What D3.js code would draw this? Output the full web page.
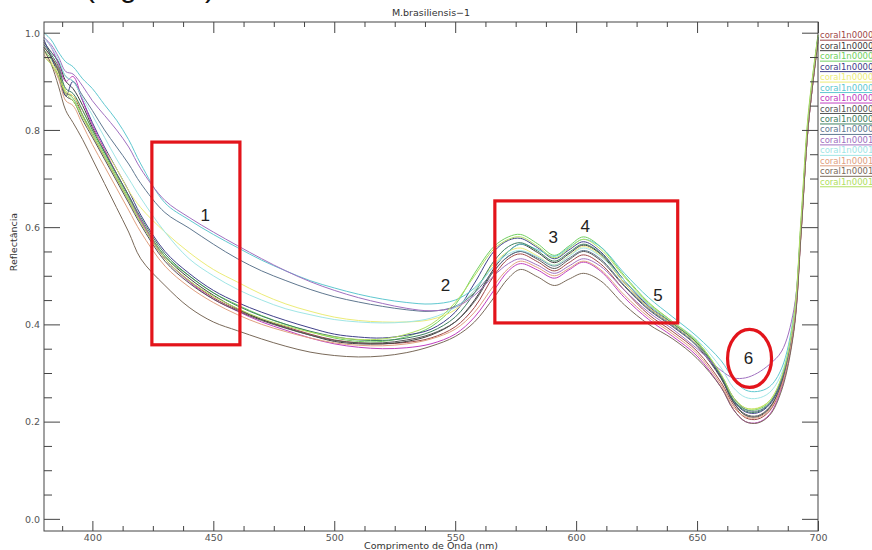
<!DOCTYPE html>
<html>
<head>
<meta charset="utf-8">
<script src="https://cdn.jsdelivr.net/npm/d3@7"></script>
<style>
  body { margin: 0; background: #fff; }
  svg { display: block; }
  .tick-label { font-family: "DejaVu Sans", sans-serif; font-size: 9.5px; fill: #555; }
  .axis-title { font-family: "DejaVu Sans", sans-serif; font-size: 9.5px; fill: #333; }
  .legend-text { font-family: "DejaVu Sans", sans-serif; font-size: 8.5px; }
  .mark-label { font-family: "Liberation Sans", Arial, sans-serif; font-size: 17px; fill: #222; }
</style>
</head>
<body>
<script>
const wavelengths = [380, 383, 386, 389, 392, 396, 400, 405, 410, 415, 420, 430, 440, 450, 460, 470, 480, 490, 500, 510, 520, 530, 540, 550, 558, 566, 572, 577, 584, 591, 597, 603, 610, 620, 630, 640, 650, 660, 665, 670, 675, 680, 685, 690, 693, 696, 700];

const coral00 = [0.97, 0.95, 0.925, 0.875, 0.87, 0.83, 0.79, 0.745, 0.70, 0.655, 0.61, 0.535, 0.49, 0.455, 0.43, 0.41, 0.395, 0.38, 0.368, 0.362, 0.36, 0.363, 0.372, 0.395, 0.435, 0.50, 0.535, 0.545, 0.529, 0.51, 0.527, 0.543, 0.525, 0.47, 0.42, 0.385, 0.345, 0.28, 0.235, 0.208, 0.205, 0.222, 0.275, 0.39, 0.59, 0.81, 0.985];
const coral01 = [0.98, 0.96, 0.94, 0.90, 0.885, 0.85, 0.805, 0.755, 0.71, 0.665, 0.615, 0.54, 0.495, 0.46, 0.432, 0.41, 0.393, 0.378, 0.365, 0.36, 0.36, 0.365, 0.378, 0.405, 0.45, 0.515, 0.55, 0.565, 0.548, 0.527, 0.545, 0.563, 0.545, 0.485, 0.435, 0.40, 0.36, 0.29, 0.24, 0.213, 0.21, 0.228, 0.28, 0.40, 0.60, 0.82, 0.99];
const coral02 = [0.965, 0.945, 0.92, 0.88, 0.865, 0.83, 0.795, 0.75, 0.705, 0.66, 0.615, 0.54, 0.50, 0.465, 0.44, 0.418, 0.40, 0.385, 0.372, 0.365, 0.365, 0.375, 0.395, 0.44, 0.505, 0.56, 0.58, 0.585, 0.566, 0.542, 0.561, 0.58, 0.56, 0.50, 0.445, 0.405, 0.365, 0.295, 0.245, 0.225, 0.225, 0.24, 0.29, 0.41, 0.61, 0.83, 0.995];
const coral03 = [0.985, 0.95, 0.91, 0.87, 0.90, 0.86, 0.815, 0.765, 0.72, 0.675, 0.625, 0.55, 0.505, 0.47, 0.445, 0.425, 0.408, 0.393, 0.38, 0.374, 0.372, 0.378, 0.39, 0.425, 0.485, 0.55, 0.573, 0.577, 0.558, 0.535, 0.553, 0.57, 0.55, 0.49, 0.437, 0.40, 0.36, 0.29, 0.243, 0.22, 0.218, 0.235, 0.285, 0.40, 0.60, 0.82, 0.99];
const coral04 = [0.96, 0.94, 0.915, 0.88, 0.87, 0.84, 0.80, 0.76, 0.72, 0.675, 0.64, 0.59, 0.548, 0.513, 0.487, 0.462, 0.442, 0.427, 0.415, 0.408, 0.405, 0.405, 0.41, 0.43, 0.47, 0.525, 0.55, 0.557, 0.541, 0.522, 0.541, 0.56, 0.542, 0.485, 0.435, 0.40, 0.36, 0.295, 0.25, 0.228, 0.228, 0.243, 0.29, 0.41, 0.61, 0.82, 0.99];
const coral05 = [1.0, 0.985, 0.96, 0.94, 0.93, 0.905, 0.885, 0.852, 0.82, 0.78, 0.73, 0.65, 0.615, 0.585, 0.558, 0.532, 0.51, 0.49, 0.475, 0.462, 0.452, 0.445, 0.442, 0.45, 0.475, 0.52, 0.55, 0.565, 0.554, 0.54, 0.558, 0.575, 0.56, 0.505, 0.455, 0.415, 0.375, 0.325, 0.288, 0.265, 0.262, 0.272, 0.31, 0.42, 0.61, 0.82, 0.99];
const coral06 = [0.99, 0.97, 0.935, 0.90, 0.91, 0.86, 0.81, 0.76, 0.71, 0.665, 0.615, 0.535, 0.488, 0.452, 0.427, 0.405, 0.388, 0.372, 0.36, 0.353, 0.35, 0.352, 0.36, 0.38, 0.415, 0.47, 0.51, 0.525, 0.512, 0.495, 0.512, 0.528, 0.51, 0.455, 0.41, 0.375, 0.335, 0.27, 0.225, 0.20, 0.198, 0.215, 0.27, 0.39, 0.59, 0.81, 0.985];
const coral07 = [0.97, 0.95, 0.92, 0.87, 0.86, 0.82, 0.785, 0.74, 0.695, 0.65, 0.605, 0.53, 0.485, 0.452, 0.428, 0.408, 0.392, 0.378, 0.367, 0.362, 0.362, 0.368, 0.38, 0.405, 0.447, 0.51, 0.54, 0.55, 0.534, 0.515, 0.533, 0.55, 0.532, 0.478, 0.43, 0.395, 0.355, 0.288, 0.24, 0.215, 0.212, 0.23, 0.28, 0.40, 0.60, 0.82, 0.99];
const coral08 = [0.975, 0.955, 0.93, 0.885, 0.875, 0.84, 0.80, 0.755, 0.71, 0.665, 0.62, 0.545, 0.50, 0.465, 0.438, 0.417, 0.40, 0.386, 0.375, 0.368, 0.367, 0.372, 0.385, 0.415, 0.465, 0.53, 0.56, 0.568, 0.551, 0.53, 0.548, 0.565, 0.547, 0.49, 0.44, 0.402, 0.362, 0.293, 0.245, 0.222, 0.22, 0.237, 0.288, 0.405, 0.60, 0.82, 0.99];
const coral09 = [0.975, 0.96, 0.94, 0.91, 0.90, 0.87, 0.84, 0.80, 0.765, 0.73, 0.69, 0.63, 0.598, 0.565, 0.535, 0.51, 0.49, 0.472, 0.457, 0.446, 0.437, 0.43, 0.427, 0.437, 0.465, 0.51, 0.54, 0.55, 0.537, 0.52, 0.536, 0.552, 0.535, 0.48, 0.432, 0.397, 0.357, 0.295, 0.25, 0.225, 0.222, 0.238, 0.288, 0.405, 0.60, 0.82, 0.99];
const coral10 = [0.99, 0.975, 0.95, 0.92, 0.915, 0.89, 0.86, 0.83, 0.80, 0.765, 0.72, 0.655, 0.62, 0.59, 0.562, 0.535, 0.51, 0.488, 0.47, 0.455, 0.443, 0.433, 0.428, 0.435, 0.46, 0.50, 0.525, 0.535, 0.522, 0.505, 0.52, 0.535, 0.52, 0.47, 0.425, 0.39, 0.35, 0.305, 0.29, 0.29, 0.30, 0.318, 0.345, 0.43, 0.60, 0.81, 0.985];
const coral11 = [0.99, 0.97, 0.945, 0.91, 0.90, 0.865, 0.83, 0.785, 0.74, 0.70, 0.66, 0.59, 0.535, 0.50, 0.472, 0.45, 0.432, 0.42, 0.41, 0.405, 0.403, 0.405, 0.413, 0.435, 0.47, 0.52, 0.545, 0.552, 0.539, 0.522, 0.54, 0.557, 0.54, 0.49, 0.44, 0.405, 0.368, 0.31, 0.27, 0.25, 0.248, 0.26, 0.30, 0.41, 0.60, 0.82, 0.99];
const coral12 = [0.955, 0.935, 0.905, 0.86, 0.85, 0.81, 0.77, 0.725, 0.68, 0.635, 0.59, 0.52, 0.477, 0.445, 0.42, 0.40, 0.385, 0.372, 0.362, 0.357, 0.356, 0.36, 0.37, 0.39, 0.425, 0.48, 0.515, 0.53, 0.517, 0.50, 0.515, 0.53, 0.513, 0.46, 0.415, 0.38, 0.34, 0.275, 0.23, 0.21, 0.208, 0.225, 0.275, 0.395, 0.59, 0.81, 0.985];
const coral13 = [0.965, 0.935, 0.89, 0.84, 0.815, 0.78, 0.74, 0.69, 0.64, 0.59, 0.535, 0.48, 0.435, 0.405, 0.387, 0.37, 0.355, 0.343, 0.336, 0.333, 0.335, 0.342, 0.355, 0.375, 0.405, 0.455, 0.495, 0.513, 0.498, 0.48, 0.493, 0.505, 0.49, 0.44, 0.40, 0.37, 0.33, 0.27, 0.225, 0.20, 0.197, 0.213, 0.265, 0.385, 0.585, 0.81, 0.98];
const coral14 = [0.95, 0.935, 0.91, 0.875, 0.86, 0.825, 0.79, 0.745, 0.70, 0.655, 0.61, 0.535, 0.49, 0.458, 0.433, 0.412, 0.397, 0.384, 0.374, 0.369, 0.37, 0.38, 0.40, 0.445, 0.50, 0.555, 0.575, 0.58, 0.561, 0.537, 0.556, 0.575, 0.555, 0.497, 0.443, 0.405, 0.365, 0.297, 0.25, 0.228, 0.227, 0.243, 0.293, 0.415, 0.62, 0.835, 0.995];

const seriesNames = ['coral1n00000', 'coral1n00001', 'coral1n00002', 'coral1n00003', 'coral1n00004',
  'coral1n00005', 'coral1n00006', 'coral1n00007', 'coral1n00008', 'coral1n00009',
  'coral1n00010', 'coral1n00011', 'coral1n00012', 'coral1n00013', 'coral1n00014'];

const xMajorTicks = [400, 450, 500, 550, 600, 650, 700];
const yMajorTicks = [0.0, 0.2, 0.4, 0.6, 0.8, 1.0];

// marked regions drawn over the plot (data units)
const boxLabels = ['1', '2', '3', '4', '5', '6'];
const boxes = [[424.6, 461.0, 0.775, 0.358], [566.4, 642.0, 0.654, 0.403]];

const lineColors = ['#a04848', '#404040', '#70d060', '#40408a', '#ecec78', '#60c8d0', '#c040c0', '#555555',
  '#3f8060', '#607890', '#a070c0', '#a0e6e6', '#e0a080', '#7a6a5a', '#b0e060'];

const allSeries = [coral00, coral01, coral02, coral03, coral04, coral05, coral06, coral07,
  coral08, coral09, coral10, coral11, coral12, coral13, coral14];

const W = 872, H = 550;
const mLeft = 44, mRight = 818, mTop = 22, mBottom = 531;

const svg = d3.select('body').append('svg').attr('width', W).attr('height', H);

const x = d3.scaleLinear().domain([380, 700]).range([mLeft, mRight]);
const y = d3.scaleLinear().domain([-0.025, 1.022]).range([mBottom, mTop]);

// cropped caption at the very top of the page
svg.append('text')
  .attr('x', 85).attr('y', -3)
  .style('font-family', '"Liberation Sans", sans-serif')
  .style('font-size', '30px')
  .style('fill', '#111')
  .text('(Figura 7)');

// spectra
const line = d3.line()
  .x((d, i) => x(wavelengths[i]))
  .y(d => y(d))
  .curve(d3.curveCatmullRom.alpha(0.5));

svg.append('g').selectAll('path')
  .data(allSeries)
  .enter()
  .append('path')
  .attr('d', d => line(d))
  .attr('fill', 'none')
  .attr('stroke', (d, i) => lineColors[i])
  .attr('stroke-width', 1);

// axes: box with inward ticks on all four sides
const axisColor = '#444';
const xMinor = d3.range(387.5, 700, 12.5).filter(v => xMajorTicks.indexOf(v) < 0);
const yMinor = d3.range(0.05, 1.0, 0.05).filter(v => !yMajorTicks.some(t => Math.abs(t - v) < 1e-6));

const gx = svg.append('g').attr('transform', `translate(0,${mBottom})`)
  .call(d3.axisBottom(x).tickValues(xMajorTicks).tickSizeInner(-10).tickSizeOuter(0).tickFormat(d3.format('d')));
const gxMinor = svg.append('g').attr('transform', `translate(0,${mBottom})`)
  .call(d3.axisBottom(x).tickValues(xMinor).tickSize(-5).tickFormat(''));
const gxTop = svg.append('g').attr('transform', `translate(0,${mTop})`)
  .call(d3.axisTop(x).tickValues(xMajorTicks).tickSizeInner(-11).tickSizeOuter(0).tickFormat(''));
const gxTopMinor = svg.append('g').attr('transform', `translate(0,${mTop})`)
  .call(d3.axisTop(x).tickValues(xMinor).tickSize(-5).tickFormat(''));

const gy = svg.append('g').attr('transform', `translate(${mLeft},0)`)
  .call(d3.axisLeft(y).tickValues(yMajorTicks).tickSizeInner(-16).tickSizeOuter(0).tickFormat(d3.format('.1f')));
const gyMinor = svg.append('g').attr('transform', `translate(${mLeft},0)`)
  .call(d3.axisLeft(y).tickValues(yMinor).tickSize(-8).tickFormat(''));
const gyRight = svg.append('g').attr('transform', `translate(${mRight},0)`)
  .call(d3.axisRight(y).tickValues(yMajorTicks).tickSizeInner(-16).tickSizeOuter(0).tickFormat(''));
const gyRightMinor = svg.append('g').attr('transform', `translate(${mRight},0)`)
  .call(d3.axisRight(y).tickValues(yMinor).tickSize(-8).tickFormat(''));

[gx, gxMinor, gxTop, gxTopMinor, gy, gyMinor, gyRight, gyRightMinor].forEach(g => {
  g.selectAll('.domain').remove();
  g.selectAll('line').attr('stroke', axisColor);
});
gx.selectAll('text').attr('class', 'tick-label').attr('dy', null).attr('y', 9.5);
gy.selectAll('text').attr('class', 'tick-label').attr('x', -4).attr('dy', '0.35em');

svg.append('rect')
  .attr('x', mLeft).attr('y', mTop)
  .attr('width', mRight - mLeft).attr('height', mBottom - mTop)
  .attr('fill', 'none').attr('stroke', axisColor).attr('stroke-width', 1);

// titles
svg.append('text').attr('class', 'axis-title')
  .attr('x', (mLeft + mRight) / 2).attr('y', 16)
  .attr('text-anchor', 'middle')
  .text('M.brasiliensis\u22121');

svg.append('text').attr('class', 'axis-title')
  .attr('x', (mLeft + mRight) / 2).attr('y', 548.5)
  .attr('text-anchor', 'middle')
  .text('Comprimento de Onda (nm)');

svg.append('text').attr('class', 'axis-title')
  .attr('transform', 'translate(17,242) rotate(-90)')
  .attr('text-anchor', 'middle')
  .text('Reflectância');

// legend on the right edge
const legend = svg.append('g').selectAll('g')
  .data(seriesNames)
  .enter()
  .append('g')
  .attr('transform', (d, i) => `translate(820,${35.7 + i * 10.47})`);

legend.append('text')
  .attr('class', 'legend-text')
  .attr('dy', '0.3em')
  .attr('fill', (d, i) => lineColors[i])
  .text(d => d);

legend.append('line')
  .attr('x1', 0).attr('x2', 60)
  .attr('y1', 4.5).attr('y2', 4.5)
  .attr('stroke', (d, i) => lineColors[i])
  .attr('stroke-width', 1);

// red annotation marks
const red = '#e3141b';
svg.append('g').selectAll('rect')
  .data(boxes)
  .enter()
  .append('rect')
  .attr('x', d => x(d[0]))
  .attr('y', d => y(d[2]))
  .attr('width', d => x(d[1]) - x(d[0]))
  .attr('height', d => y(d[3]) - y(d[2]))
  .attr('fill', 'none')
  .attr('stroke', red)
  .attr('stroke-width', 3.2);

svg.append('ellipse')
  .attr('cx', x(671.7)).attr('cy', y(0.33))
  .attr('rx', 22).attr('ry', 29)
  .attr('fill', 'none')
  .attr('stroke', red)
  .attr('stroke-width', 3.2);

const labelSpots = [[446.7, 0.625], [546, 0.481], [590.5, 0.58], [603.8, 0.603], [633.8, 0.461], [671.3, 0.331]];
svg.append('g').selectAll('text')
  .data(boxLabels)
  .enter()
  .append('text')
  .attr('class', 'mark-label')
  .attr('x', (d, i) => x(labelSpots[i][0]))
  .attr('y', (d, i) => y(labelSpots[i][1]))
  .attr('dy', '0.35em')
  .attr('text-anchor', 'middle')
  .text(d => d);
</script>
</body>
</html>
